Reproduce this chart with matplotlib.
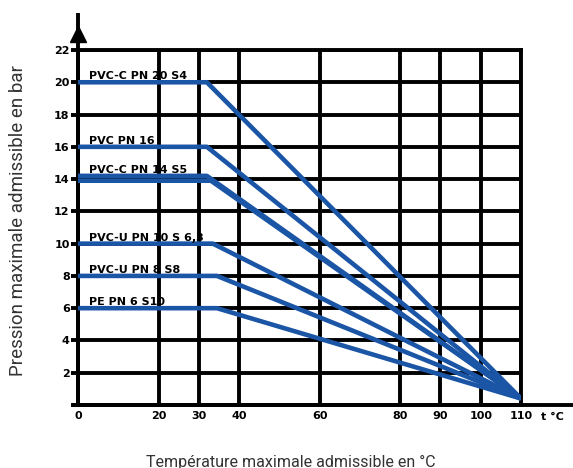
import numpy as np
import matplotlib.pyplot as plt

# axes ticks
temp_ticks = [0, 20, 30, 40, 60, 80, 90, 100, 110]
pressure_ticks = [0, 2, 4, 6, 8, 10, 12, 14, 16, 18, 20, 22]
pressure_labels = ['', '2', '4', '6', '8', '10', '12', '14', '16', '18', '20', '22']

# derating curves: flat up to the knee, then straight down to the end point
series_names = ['PVC-C PN 20 S4', 'PVC PN 16', 'PVC-C PN 14 S5', '',
                'PVC-U PN 10 S 6,3', 'PVC-U PN 8 S8', 'PE PN 6 S10']
flat_pressure = [20, 16, 14.2, 13.9, 10, 8, 6]
knee_temp = [32, 32, 32, 33, 33.5, 34.5, 34.5]
end_temp = 110
end_pressure = 0.4

blue = '#1b55a5'
lw_grid = 2.8

plt.rcParams['font.family'] = ['DejaVu Sans']

fig = plt.figure(figsize=(5.73, 4.68), dpi=100)
ax = fig.add_axes([78 / 573, 63 / 468, 443 / 573, 355 / 468])

for name, p, tk in zip(series_names, flat_pressure, knee_temp):
    ax.plot([0, tk, end_temp], [p, p, end_pressure], color=blue, lw=3.3,
            solid_capstyle='butt', zorder=3)
    if name:
        ax.annotate(name, xy=(2.7, p), xytext=(0, 2.0), textcoords='offset points',
                    ha='left', va='baseline', fontsize=8, fontweight='bold',
                    color='black', zorder=4)

ax.set_xlim(0, 110)
ax.set_ylim(0, 22)
ax.set_xticks(temp_ticks)
ax.set_xticklabels([str(t) for t in temp_ticks])
ax.set_yticks(pressure_ticks)
ax.set_yticklabels(pressure_labels)

ax.grid(True, color='black', lw=lw_grid)
ax.set_axisbelow(True)
for s in ax.spines.values():
    s.set_linewidth(lw_grid)
    s.set_color('black')

ax.tick_params(axis='y', direction='out', length=5, width=lw_grid, pad=1,
               labelsize=8)
ax.tick_params(axis='x', length=0, pad=4, labelsize=8)
for lab in ax.get_xticklabels() + ax.get_yticklabels():
    lab.set_fontweight('bold')

# axis extensions with arrow
ax.plot([0, 0], [0, 24.3], color='black', lw=lw_grid, clip_on=False,
        solid_capstyle='butt')
ax.plot([0], [23.0], marker='^', color='black', markersize=11, clip_on=False)
ax.plot([-1.5, 123.5], [0, 0], color='black', lw=lw_grid, clip_on=False,
        solid_capstyle='butt')
ax.text(115, -0.45, 't °C', ha='left', va='top', fontsize=8, fontweight='bold')

fig.text(18 / 573, 1 - 221 / 468, 'Pression maximale admissible en bar',
         rotation=90, ha='center', va='center', fontsize=13.5, color='#333333',
         family='Roboto')
fig.text(291 / 573, 1 - 462 / 468, 'Température maximale admissible en °C',
         ha='center', va='center', fontsize=11.5, color='#333333', family='Roboto')

fig.savefig('out.png', dpi=100)
